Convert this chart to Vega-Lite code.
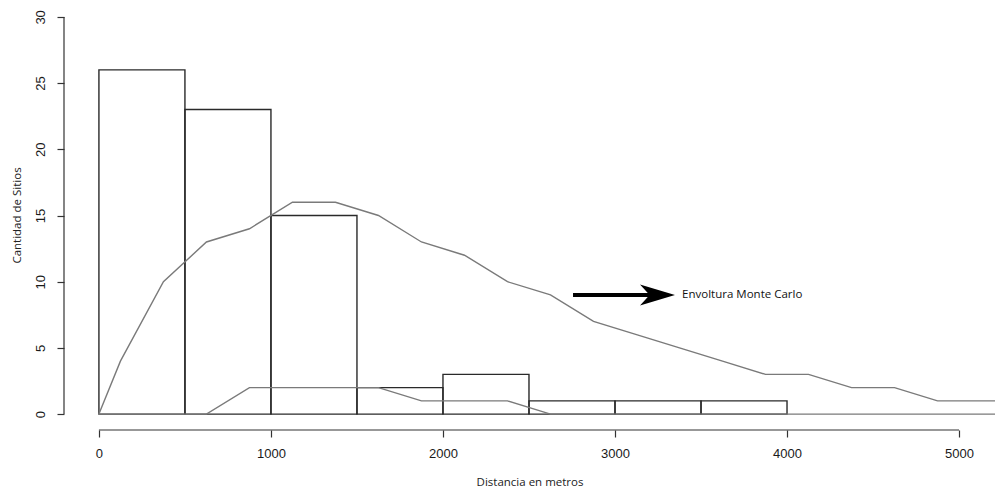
{
  "$schema": "https://vega.github.io/schema/vega-lite/v6.json",
  "width": 931,
  "height": 429,
  "autosize": {"type": "none"},
  "padding": {"left": 64, "top": 1, "right": 0, "bottom": 61},
  "background": "white",
  "config": {
    "view": {"stroke": null},
    "axis": {
      "domain": false,
      "grid": false,
      "ticks": true,
      "tickColor": "#333333",
      "tickWidth": 1.2,
      "tickSize": 7,
      "labelFont": "Liberation Sans",
      "labelFontSize": 13,
      "labelColor": "#1a1a1a",
      "titleFont": "Open Sans",
      "titleFontSize": 11.5,
      "titleFontWeight": "normal",
      "titleColor": "#222222"
    }
  },
  "datasets": {
    "bars": [
      {"x0": 0, "x1": 500, "count": 26},
      {"x0": 500, "x1": 1000, "count": 23},
      {"x0": 1000, "x1": 1500, "count": 15},
      {"x0": 1500, "x1": 2000, "count": 2},
      {"x0": 2000, "x1": 2500, "count": 3},
      {"x0": 2500, "x1": 3000, "count": 1},
      {"x0": 3000, "x1": 3500, "count": 1},
      {"x0": 3500, "x1": 4000, "count": 1}
    ],
    "env": [
      {"env": "upper", "d": 0, "n": 0},
      {"env": "upper", "d": 125, "n": 4},
      {"env": "upper", "d": 375, "n": 10},
      {"env": "upper", "d": 625, "n": 13},
      {"env": "upper", "d": 875, "n": 14},
      {"env": "upper", "d": 1125, "n": 16},
      {"env": "upper", "d": 1375, "n": 16},
      {"env": "upper", "d": 1625, "n": 15},
      {"env": "upper", "d": 1875, "n": 13},
      {"env": "upper", "d": 2125, "n": 12},
      {"env": "upper", "d": 2375, "n": 10},
      {"env": "upper", "d": 2625, "n": 9},
      {"env": "upper", "d": 2875, "n": 7},
      {"env": "upper", "d": 3125, "n": 6},
      {"env": "upper", "d": 3375, "n": 5},
      {"env": "upper", "d": 3625, "n": 4},
      {"env": "upper", "d": 3875, "n": 3},
      {"env": "upper", "d": 4125, "n": 3},
      {"env": "upper", "d": 4375, "n": 2},
      {"env": "upper", "d": 4625, "n": 2},
      {"env": "upper", "d": 4875, "n": 1},
      {"env": "upper", "d": 5125, "n": 1},
      {"env": "upper", "d": 5375, "n": 1},
      {"env": "lower", "d": 0, "n": 0},
      {"env": "lower", "d": 625, "n": 0},
      {"env": "lower", "d": 875, "n": 2},
      {"env": "lower", "d": 1125, "n": 2},
      {"env": "lower", "d": 1375, "n": 2},
      {"env": "lower", "d": 1625, "n": 2},
      {"env": "lower", "d": 1875, "n": 1},
      {"env": "lower", "d": 2125, "n": 1},
      {"env": "lower", "d": 2375, "n": 1},
      {"env": "lower", "d": 2625, "n": 0},
      {"env": "lower", "d": 5375, "n": 0}
    ],
    "axislines": [
      {"x": -203, "x2": -203, "y": 0, "y2": 30},
      {"x": 0, "x2": 5000, "y": -1.2, "y2": -1.2}
    ],
    "arrow": [
      {"x": 2756, "x2": 3240, "y": 9, "tip": 3247, "label": "Envoltura Monte Carlo", "lx": 3390}
    ]
  },
  "encoding": {
    "x": {"type": "quantitative", "scale": {"domain": [-203, 5209], "nice": false, "zero": false}},
    "y": {"type": "quantitative", "scale": {"domain": [-1.2, 31.2], "nice": false, "zero": false}}
  },
  "layer": [
    {
      "data": {"name": "bars"},
      "mark": {"type": "rect", "fill": "white", "fillOpacity": 0, "stroke": "#2a2a2a", "strokeWidth": 1.4},
      "encoding": {
        "x": {"field": "x0", "type": "quantitative",
          "axis": {"values": [0, 1000, 2000, 3000, 4000, 5000], "title": "Distancia en metros", "labelPadding": 10, "titleY": 52, "titleBaseline": "middle", "format": "d"}},
        "x2": {"field": "x1"},
        "y": {"field": "count", "type": "quantitative",
          "axis": {"values": [0, 5, 10, 15, 20, 25, 30], "title": "Cantidad de Sitios", "labelAngle": 270, "labelAlign": "center", "labelBaseline": "bottom", "labelPadding": 10, "titleX": -47, "titleY": 214, "titleAlign": "center", "titleBaseline": "middle", "titleAngle": 270}},
        "y2": {"datum": 0}
      }
    },
    {
      "data": {"name": "env"},
      "mark": {"type": "line", "color": "#7a7a7a", "strokeWidth": 1.4, "clip": true},
      "encoding": {
        "x": {"field": "d", "type": "quantitative"},
        "y": {"field": "n", "type": "quantitative"},
        "detail": {"field": "env"}
      }
    },
    {
      "data": {"name": "axislines"},
      "mark": {"type": "rule", "color": "#333333", "strokeWidth": 1.2, "clip": false},
      "encoding": {
        "x": {"field": "x", "type": "quantitative"},
        "x2": {"field": "x2"},
        "y": {"field": "y", "type": "quantitative"},
        "y2": {"field": "y2"}
      }
    },
    {
      "data": {"name": "arrow"},
      "mark": {"type": "rule", "color": "black", "strokeWidth": 4},
      "encoding": {
        "x": {"field": "x", "type": "quantitative"},
        "x2": {"field": "x2"},
        "y": {"field": "y", "type": "quantitative"}
      }
    },
    {
      "data": {"name": "arrow"},
      "mark": {"type": "point", "shape": "M1,0 L-1,-0.6 L-0.45,0 L-1,0.6 Z", "filled": true, "color": "black", "opacity": 1, "size": 1225},
      "encoding": {
        "x": {"field": "tip", "type": "quantitative"},
        "y": {"field": "y", "type": "quantitative"}
      }
    },
    {
      "data": {"name": "arrow"},
      "mark": {"type": "text", "align": "left", "baseline": "middle", "font": "Open Sans", "fontSize": 11.5, "color": "#111111"},
      "encoding": {
        "x": {"field": "lx", "type": "quantitative"},
        "y": {"field": "y", "type": "quantitative"},
        "text": {"field": "label"}
      }
    }
  ]
}
